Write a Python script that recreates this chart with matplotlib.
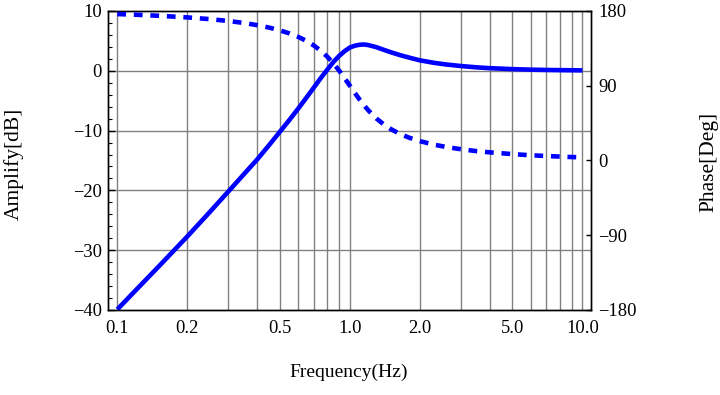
import matplotlib
matplotlib.use("Agg")
import matplotlib.pyplot as plt
from matplotlib.ticker import FixedLocator, NullFormatter, MultipleLocator

plt.rcParams['font.family'] = ['Liberation Serif', 'DejaVu Serif']
plt.rcParams['lines.scale_dashes'] = False

# data
freq = [0.1, 0.12, 0.15, 0.2, 0.25, 0.3, 0.35, 0.4, 0.45, 0.5, 0.55, 0.6, 0.65,
        0.7, 0.75, 0.8, 0.85, 0.9, 0.95, 1.0, 1.05, 1.1, 1.15, 1.2, 1.3, 1.4,
        1.5, 1.65, 1.8, 2.0, 2.3, 2.6, 3.0, 3.5, 4.0, 5.0, 6.0, 7.0, 8.5, 10.0]
amp_db = [-39.9, -36.7, -32.8, -27.7, -23.6, -20.2, -17.3, -14.8, -12.4, -10.2,
          -8.2, -6.3, -4.5, -2.8, -1.2, 0.2, 1.5, 2.5, 3.3, 3.9, 4.2, 4.35, 4.4,
          4.3, 3.95, 3.5, 3.1, 2.6, 2.2, 1.75, 1.33, 1.05, 0.8, 0.58, 0.44, 0.28,
          0.19, 0.14, 0.1, 0.07]
phase_deg = [176.3, 175.5, 174.3, 172.3, 170.2, 168.0, 165.6, 162.9, 160.0,
             156.7, 153.0, 148.8, 144.0, 138.5, 132.1, 124.9, 116.8, 108.1, 99.0,
             90.0, 81.4, 73.5, 66.5, 60.4, 50.6, 43.3, 37.8, 31.7, 27.4, 23.3,
             19.1, 16.2, 13.6, 11.3, 9.8, 7.7, 6.3, 5.4, 4.4, 3.7]

x_ticks = [0.1, 0.2, 0.5, 1.0, 2.0, 5.0, 10.0]
x_ticklabels = ["0.1", "0.2", "0.5", "1.0", "2.0", "5.0", "10.0"]
x_grid = [0.1, 0.2, 0.3, 0.4, 0.5, 0.6, 0.7, 0.8, 0.9, 1.0,
          2.0, 3.0, 4.0, 5.0, 6.0, 7.0, 8.0, 9.0, 10.0]
amp_ticks = [10, 0, -10, -20, -30, -40]
amp_ticklabels = ["10", "0", "\u221210", "\u221220", "\u221230", "\u221240"]
phase_ticks = [180, 90, 0, -90, -180]
phase_ticklabels = ["180", "90", "0", "\u221290", "\u2212180"]

blue = (0, 0, 1)
fs_tick = 13.3

fig = plt.figure(figsize=(7.2, 3.95), dpi=100)
ax = fig.add_axes([108 / 720, 1 - 310 / 395, (591 - 108) / 720, (310 - 11) / 395])
ax2 = ax.twinx()

ax.set_xscale('log')
ax.set_xlim(0.0912, 10.88)
ax.set_ylim(-40, 10)
ax2.set_ylim(-180, 180)

# grid
for xv in x_grid:
    ax.axvline(xv, color='#808080', lw=1.0, zorder=1)
for yv in [0, -10, -20, -30]:
    ax.axhline(yv, color='#808080', lw=1.0, zorder=1)

ax.plot(freq, amp_db, color=blue, lw=3.3, zorder=3, solid_capstyle='butt')
ax2.plot(freq, phase_deg, color=blue, lw=3.3, dashes=(6.3, 5.6),
         dash_capstyle='butt', zorder=3)

ax.xaxis.set_major_locator(FixedLocator(x_ticks))
ax.set_xticklabels(x_ticklabels)
ax.xaxis.set_minor_locator(FixedLocator([]))
ax.xaxis.set_minor_formatter(NullFormatter())
ax.tick_params(axis='x', which='both', length=0, pad=7.5, labelsize=fs_tick)

ax.yaxis.set_major_locator(FixedLocator(amp_ticks))
ax.set_yticklabels(amp_ticklabels)
ax.yaxis.set_minor_locator(MultipleLocator(2))
ax.tick_params(axis='y', which='major', direction='in', length=5, width=1,
               pad=4.5, labelsize=fs_tick)
ax.tick_params(axis='y', which='minor', direction='in', length=3, width=0.8)

ax2.yaxis.set_major_locator(FixedLocator(phase_ticks))
ax2.set_yticklabels(phase_ticklabels)
ax2.tick_params(axis='y', which='major', direction='in', length=3.5, width=1,
                pad=5, labelsize=fs_tick)
ax2.xaxis.set_visible(False)

for a in (ax, ax2):
    for s in a.spines.values():
        s.set_linewidth(1.0)
        s.set_color('black')

fig.text(14 / 720, 1 - 164 / 395, "Amplify[dB]", rotation=90, ha='center',
         va='center', fontsize=15.5)
fig.text(709 / 720, 1 - 162 / 395, "Phase[Deg]", rotation=90, ha='center',
         va='center', fontsize=15.5)
fig.text(349 / 720, 1 - 372 / 395, "Frequency(Hz)", ha='center', va='center',
         fontsize=14)

fig.savefig("out.png", dpi=100)
